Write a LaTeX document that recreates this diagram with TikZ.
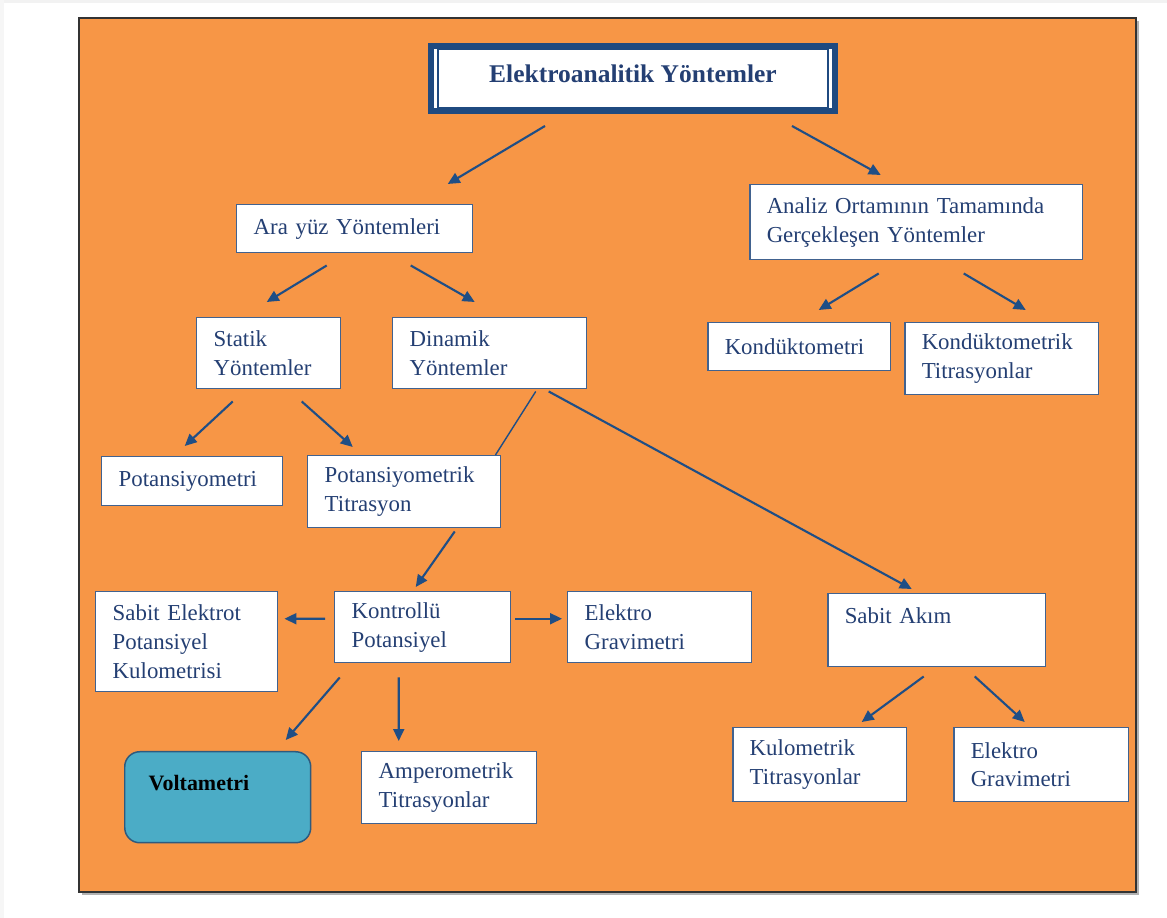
\documentclass[tikz,border=0pt]{standalone}
\usepackage{fontspec}
\setmainfont{Liberation Serif}
\usetikzlibrary{calc}
\usetikzlibrary{arrows.meta}

\definecolor{panel}{HTML}{F79646}
\definecolor{txtblue}{HTML}{243F73}
\definecolor{arrblue}{HTML}{1F4E85}
\definecolor{boxline}{HTML}{41628F}
\definecolor{titleblue}{HTML}{1F4A80}
\definecolor{voltfill}{HTML}{4BACC6}
\definecolor{voltline}{HTML}{2E5A7E}

\begin{document}
\begin{tikzpicture}[x=0.02cm,y=-0.02cm,
  blk/.style={draw=boxline,line width=0.85pt,fill=white,anchor=north west,
    align=left,text width=#1,inner xsep=0.34cm,inner ysep=0pt,text=txtblue,
    font=\fontsize{13}{16.4}\selectfont},
  arr/.style={draw=arrblue,line width=1.2pt,-{Triangle[length=0.24cm,width=0.22cm]}},
  thin/.style={draw=arrblue,line width=0.8pt}]
\useasboundingbox (0,0) rectangle (1167,918);
% page and panel
\fill[gray!10] (0,0) rectangle (1167,3);
\fill[gray!7] (0,0) rectangle (4,918);
\fill[gray!60] (82,21) rectangle (1139,895);
\draw[fill=panel,draw=black!80,line width=0.9pt] (79,18) rectangle (1136,892);

% title
\node[draw=titleblue,line width=3.4pt,fill=white,minimum width=8.08cm,minimum height=1.3cm,
  text depth=0.2cm,text=txtblue,font=\bfseries\fontsize{14.5}{16}\selectfont] (title) at (633,78.5) {Elektroanalitik Yöntemler};
\draw[titleblue,line width=1.1pt] ($(title.north west)+(9.5,6.5)$) rectangle ($(title.south east)+(-9.5,-6.5)$);

% boxes
\node[blk=4.04cm,minimum height=0.96cm] (arayuz) at (236,204) {Ara yüz Yöntemleri};
\node[blk=5.98cm,minimum height=1.5cm] (analiz) at (749,184) {Analiz Ortamının Tamamında\\Gerçekleşen Yöntemler};
\node[blk=2.20cm,minimum height=1.42cm] (statik) at (196,317) {Statik\\Yöntemler};
\node[blk=3.20cm,minimum height=1.42cm] (dinamik) at (392,317) {Dinamik\\Yöntemler};
\node[blk=2.98cm,minimum height=0.96cm] (kond) at (707,322) {Kondüktometri};
\node[blk=3.20cm,minimum height=1.44cm] (kondtit) at (904,322) {Kondüktometrik\\Titrasyonlar};
\node[blk=2.94cm,minimum height=0.98cm] (pot) at (101,456) {Potansiyometri};
\node[blk=3.18cm,minimum height=1.44cm] (pottit) at (307,455) {Potansiyometrik\\Titrasyon};
\node[blk=2.96cm,minimum height=2.0cm] (sabitel) at (95,591) {Sabit Elektrot\\Potansiyel\\Kulometrisi};
\node[blk=2.84cm,minimum height=1.42cm] (kontrol) at (334,591) {Kontrollü\\Potansiyel};
\node[blk=3.00cm,minimum height=1.42cm] (elgrav) at (567,591) {Elektro\\Gravimetri};
\node[blk=3.68cm,minimum height=1.46cm] (sabitak) at (827,593) {Sabit Akım\\\mbox{}};
\node[blk=2.76cm,minimum height=1.82cm,inner xsep=0.48cm,fill=voltfill,draw=voltline,
  rounded corners=0.3cm,text=black,font=\bfseries\fontsize{12.5}{16.4}\selectfont] (volta) at (124,751) {Voltametri\\\mbox{}};
\node[blk=2.82cm,minimum height=1.44cm] (amper) at (361,751) {Amperometrik\\Titrasyonlar};
\node[blk=2.80cm,minimum height=1.48cm] (kulom) at (732,727) {Kulometrik\\Titrasyonlar};
\node[blk=2.82cm,minimum height=1.48cm] (elgravb) at (953,727) {Elektro\\Gravimetri};

% connectors
\draw[arr] ($(title.south)+(-88,12)$) -- ($(arayuz.north)+(93,-20)$);
\draw[arr] ($(title.south)+(159,12)$) -- ($(analiz.north)+(-35.5,-9)$);
\draw[arr] ($(arayuz.south)+(-28,12)$) -- ($(statik.north)+(-2,-15)$);
\draw[arr] ($(arayuz.south)+(56,12)$) -- ($(dinamik.north)+(-15,-15)$);
\draw[arr] ($(analiz.south)+(-37.5,13)$) -- ($(kond.north)+(19.5,-12)$);
\draw[arr] ($(analiz.south)+(47.5,13)$) -- ($(kondtit.north)+(24,-12)$);
\draw[arr] ($(statik.south)+(-36,12)$) -- ($(pot.north)+(-7.5,-10)$);
\draw[arr] ($(statik.south)+(33,12)$) -- ($(pottit.north)+(-51.5,-8)$);
\draw[thin] ($(dinamik.south)+(46,2)$) -- ($(pottit.north east)+(-6,0)$);
\draw[arr] ($(dinamik.south)+(59,2)$) -- ($(sabitak.north)+(-25,-4)$);
\draw[arr] ($(pottit.south)+(50.5,3)$) -- ($(kontrol.north)+(-7,-4)$);
\draw[arr] ($(kontrol.west)+(-9,-8.5)$) -- ($(sabitel.east)+(6,-23)$);
\draw[arr] ($(kontrol.east)+(4,-8.5)$) -- ($(elgrav.west)+(-5,-8.5)$);
\draw[arr] ($(kontrol.south)+(-83,14)$) -- ($(volta.north)+(68,-11)$);
\draw[arr] ($(kontrol.south)+(-24,14)$) -- ($(amper.north)+(-50.5,-10)$);
\draw[arr] ($(sabitak.south)+(-13,9)$) -- ($(kulom.north)+(42,-5)$);
\draw[arr] ($(sabitak.south)+(38,9)$) -- ($(elgravb.north)+(-16.5,-5)$);
\end{tikzpicture}
\end{document}
